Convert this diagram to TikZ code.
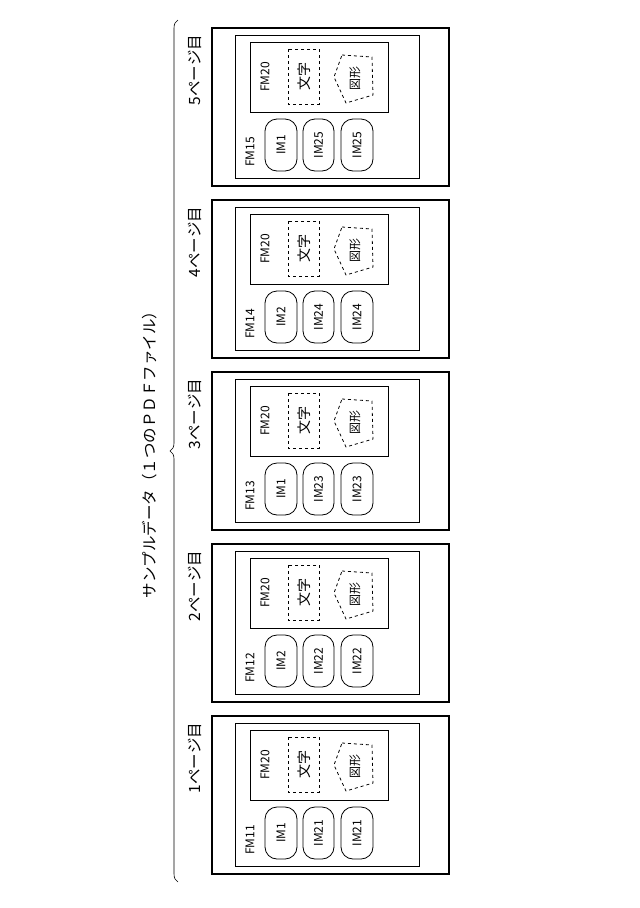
\documentclass[tikz,border=0pt]{standalone}
\usepackage{fontspec}
\setmainfont{Noto Sans CJK JP}
\usetikzlibrary{decorations.pathreplacing}
\begin{document}
\begin{tikzpicture}[x=1pt,y=-1pt,
  outerbox/.style={draw,line width=2pt},
  innerbox/.style={draw,line width=0.8pt},
  capsule/.style={draw,line width=0.8pt,rounded corners=12pt},
  dashbox/.style={draw,dashed,line width=0.8pt},
  lbl/.style={rotate=90,font=\fontsize{12}{12}\selectfont},
  biglbl/.style={rotate=90,font=\fontsize{14}{14}\selectfont},
  pagelbl/.style={rotate=90,font=\fontsize{15.5}{15.5}\selectfont}]
\useasboundingbox (0,0) rectangle (640,908);
\foreach \i/\fm/\ima/\imb in {0/FM11/IM1/IM21,1/FM12/IM2/IM22,2/FM13/IM1/IM23,3/FM14/IM2/IM24,4/FM15/IM1/IM25}{
 \begin{scope}[yshift=\i*172]
  \draw[outerbox] (212,716) rectangle (449,874);
  \draw[innerbox] (235,723) rectangle (419,866);
  \draw[innerbox] (250,730) rectangle (388,800);
  \draw[dashbox] (288,737) rectangle (319,792);
  \draw[dashbox] (342,743) -- (372,745) -- (373,783) -- (346,791) -- (334,765) -- cycle;
  \node[biglbl] at (304,764) {文字};
  \node[lbl] at (355,766) {図形};
  \node[lbl] at (265,765) {FM20};
  \node[lbl] at (250,840) {\fm};
  \draw[capsule] (265,807) rectangle (297,859);
  \draw[capsule] (303,807) rectangle (334,859);
  \draw[capsule] (341,807) rectangle (373,859);
  \node[lbl] at (281,833) {\ima};
  \node[lbl] at (318.5,833) {\imb};
  \node[lbl] at (357,833) {\imb};
 \end{scope}
}
\node[pagelbl] (p1) at (195,758) {1ページ目};
\node[pagelbl] (p2) at (195,586) {2ページ目};
\node[pagelbl] (p3) at (195,414) {3ページ目};
\node[pagelbl] (p4) at (195,242) {4ページ目};
\node[pagelbl] (p5) at (195,70) {5ページ目};
\coordinate (b1) at (178,882);
\coordinate (b2) at (178,20);
\draw[line width=0.6pt,decorate,decoration={brace,amplitude=8pt}] (b1) -- (b2);
\node[pagelbl] (title) at (150,451) {サンプルデータ（１つのＰＤＦファイル）};
\end{tikzpicture}
\end{document}
